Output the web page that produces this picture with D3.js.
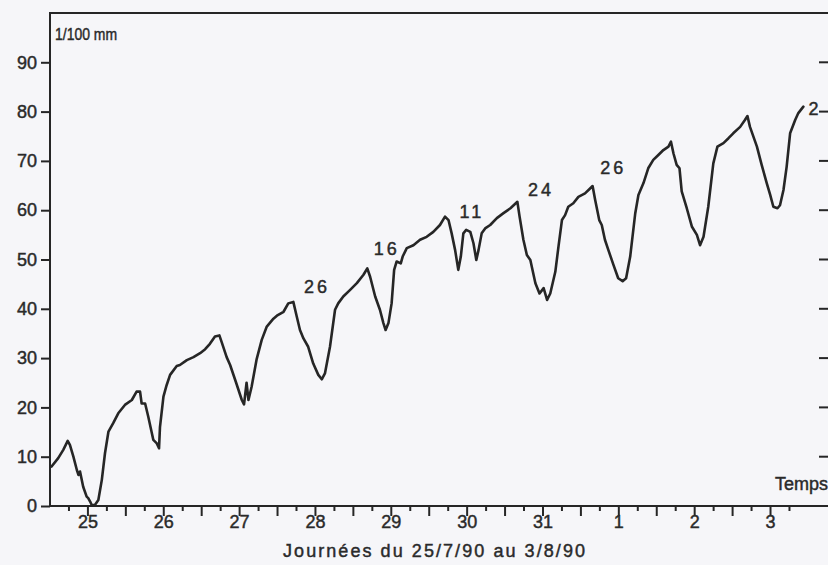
<!DOCTYPE html>
<html><head><meta charset="utf-8">
<script src="https://cdn.jsdelivr.net/npm/d3@7/dist/d3.min.js"></script>
<style>
html,body{margin:0;padding:0;background:#f6f6f9;}
svg{display:block;}
text{font-family:"Liberation Sans",Arial,sans-serif;fill:#2a2a2a;stroke:#2a2a2a;stroke-width:0.45px;}
</style></head>
<body>
<script>
// hours since 25/7/90 00:00
const hours = [0.5,2.6,4.2,5.6,6.3,7.4,8.5,9.0,9.5,10.5,11.6,12.1,12.7,13.2,14.2,15.3,16.4,17.4,18.5,20.0,21.6,23.7,25.9,27.4,28.5,29.0,30.1,31.1,32.7,33.8,34.5,34.8,35.9,36.9,38.0,40.1,41.1,43.3,45.4,47.5,49.1,50.6,52.2,53.6,54.3,55.9,57.0,58.9,60.7,61.4,62.2,62.8,63.8,65.4,67.0,68.6,70.7,71.8,73.9,75.4,77.0,78.1,79.1,80.2,81.7,83.3,84.9,86.0,87.0,88.6,90.2,91.2,92.8,94.9,97.1,99.2,100.4,101.3,102.9,104.4,105.5,106.2,107.1,108.1,108.9,109.7,111.0,111.6,112.9,115.0,117.1,119.2,121.3,123.4,125.0,126.1,127.1,128.2,129.2,130.0,130.8,131.7,133.0,134.0,134.9,135.6,136.6,137.7,139.3,141.4,143.5,145.7,147.9,148.6,149.8,150.9,152.0,153.6,154.9,156.2,157.3,158.3,159.9,160.9,162.0,163.0,164.0,165.6,167.2,169.3,170.9,171.7,172.5,173.8,174.6,175.6,176.7,178.3,179.8,181.2,182.3,183.6,185.2,186.2,187.8,189.3,190.9,192.5,194.1,195.7,196.5,197.3,198.3,199.2,199.9,201.5,203.1,204.7,205.7,206.8,208.3,209.9,211.2,213.1,214.7,216.2,218.4,219.9,220.7,221.5,223.7,225.2,226.8,227.9,228.9,230.2,231.0,232.1,233.1,234.2,235.8,236.8,238.4];
// stem diameter variation, 1/100 mm
const values = [8.0,9.7,11.4,13.2,12.4,10.0,7.3,6.3,7.0,3.9,1.9,1.6,0.9,0.2,0.2,1.2,5.3,10.7,15.1,16.8,18.8,20.5,21.5,23.2,23.2,20.8,20.8,18.1,13.4,12.7,11.7,16.0,22.2,24.5,26.6,28.4,28.6,29.6,30.2,31.0,31.8,32.9,34.4,34.6,33.3,30.2,28.6,25.0,21.5,20.6,25.0,21.5,24.2,29.8,33.7,36.4,38.0,38.6,39.4,41.1,41.4,38.4,35.7,34.0,32.3,28.9,26.6,25.7,26.9,32.3,39.8,41.1,42.5,43.8,45.2,46.9,48.2,46.5,42.5,39.8,37.1,35.7,37.1,41.1,47.9,49.6,49.2,50.6,52.3,52.9,54.0,54.6,55.6,57.0,58.7,58.0,55.3,51.9,47.9,50.6,55.3,56.0,55.6,53.3,49.9,51.9,55.3,56.3,57.0,58.4,59.4,60.4,61.7,58.7,54.0,50.9,49.9,45.2,43.1,44.2,41.8,43.1,47.5,52.6,58.0,59.0,60.7,61.4,62.7,63.4,64.4,64.9,62.1,58.0,57.0,54.0,51.9,48.9,46.2,45.6,46.2,50.6,59.4,63.1,65.5,68.5,70.2,71.2,72.2,72.9,73.9,71.5,69.2,68.5,63.8,60.4,56.7,55.0,52.9,54.6,60.7,69.5,72.9,73.6,74.6,75.6,76.9,78.3,79.1,76.9,72.9,69.2,65.5,63.1,60.7,60.4,61.0,64.1,68.8,75.6,78.3,79.7,81.0];

const yTicks = [0,10,20,30,40,50,60,70,80,90];
const dayLabels = ["25","26","27","28","29","30","31","1","2","3"];
const dayLabelHours = [12,36,60,84,108,132,156,180,204,228];
const annLabels = ["26","16","11","24","26","2"];
const annHours = [84.5,106.6,133.5,155.4,178.2,242.1];
const annValues = [44.6,52.3,59.8,64.1,68.6,80.7];

const W = 828, H = 565;
const svg = d3.select("body").append("svg").attr("width", W).attr("height", H);

const x = d3.scaleLinear().domain([0, 246]).range([50, 827.4]);
const y = d3.scaleLinear().domain([0, 100]).range([506, 13]);
const ink = "#262626";

// frame: left axis, top line, bottom axis
svg.append("line").attr("x1", x(0)).attr("x2", x(0)).attr("y1", y(100)).attr("y2", y(0))
  .attr("stroke", ink).attr("stroke-width", 2);
svg.append("line").attr("x1", x(0)-1).attr("x2", W).attr("y1", y(100)).attr("y2", y(100))
  .attr("stroke", ink).attr("stroke-width", 2);
svg.append("line").attr("x1", x(0)-1).attr("x2", W).attr("y1", y(0)).attr("y2", y(0))
  .attr("stroke", ink).attr("stroke-width", 2);

// left axis
const ya = svg.append("g").attr("transform", `translate(${x(0)},0)`)
  .call(d3.axisLeft(y).tickValues(yTicks).tickSize(9).tickPadding(4));
ya.select(".domain").remove();
ya.selectAll("line").attr("stroke", ink).attr("stroke-width", 2);
ya.selectAll("text").style("font-size", "18px").attr("fill", ink);

// right ticks
svg.append("g").selectAll("line").data(yTicks.filter(v => v > 0)).join("line")
  .attr("x1", 819).attr("x2", W).attr("y1", d => y(d)).attr("y2", d => y(d))
  .attr("stroke", ink).attr("stroke-width", 2);

// bottom ticks every 6 h
const tickHours = d3.range(6, 235, 6);
svg.append("g").selectAll("line").data(tickHours).join("line")
  .attr("x1", d => x(d)).attr("x2", d => x(d))
  .attr("y1", y(0)).attr("y2", d => y(0) + (d % 12 === 0 ? 10 : 5))
  .attr("stroke", ink).attr("stroke-width", 2);

svg.append("g").selectAll("text").data(dayLabels).join("text")
  .attr("x", (d, i) => x(dayLabelHours[i])).attr("y", 528)
  .attr("text-anchor", "middle").style("font-size", "18px").text(d => d);

// titles
svg.append("text").attr("x", 283).attr("y", 557).style("font-size", "18px")
  .attr("textLength", 302).attr("lengthAdjust", "spacing")
  .text("Journées du 25/7/90 au 3/8/90");
svg.append("text").attr("x", 828).attr("y", 490).attr("text-anchor", "end")
  .style("font-size", "18px").text("Temps");
svg.append("text").attr("x", 55).attr("y", 40).style("font-size", "17px")
  .attr("textLength", 62).attr("lengthAdjust", "spacingAndGlyphs").text("1/100 mm");

// curve
const pts = hours.map((h, i) => [h, values[i]]);
svg.append("path").datum(pts)
  .attr("d", d3.line().x(d => x(d[0])).y(d => y(d[1])))
  .attr("fill", "none").attr("stroke", ink).attr("stroke-width", 2.6)
  .attr("stroke-linejoin", "round").attr("stroke-linecap", "round");

// annotations
svg.append("g").selectAll("text").data(annLabels).join("text")
  .attr("x", (d, i) => x(annHours[i])).attr("y", (d, i) => y(annValues[i]))
  .attr("text-anchor", "middle").attr("dy", "0.36em")
  .style("font-size", "18px").style("letter-spacing", "3px")
  .text(d => d);
</script>
</body></html>
